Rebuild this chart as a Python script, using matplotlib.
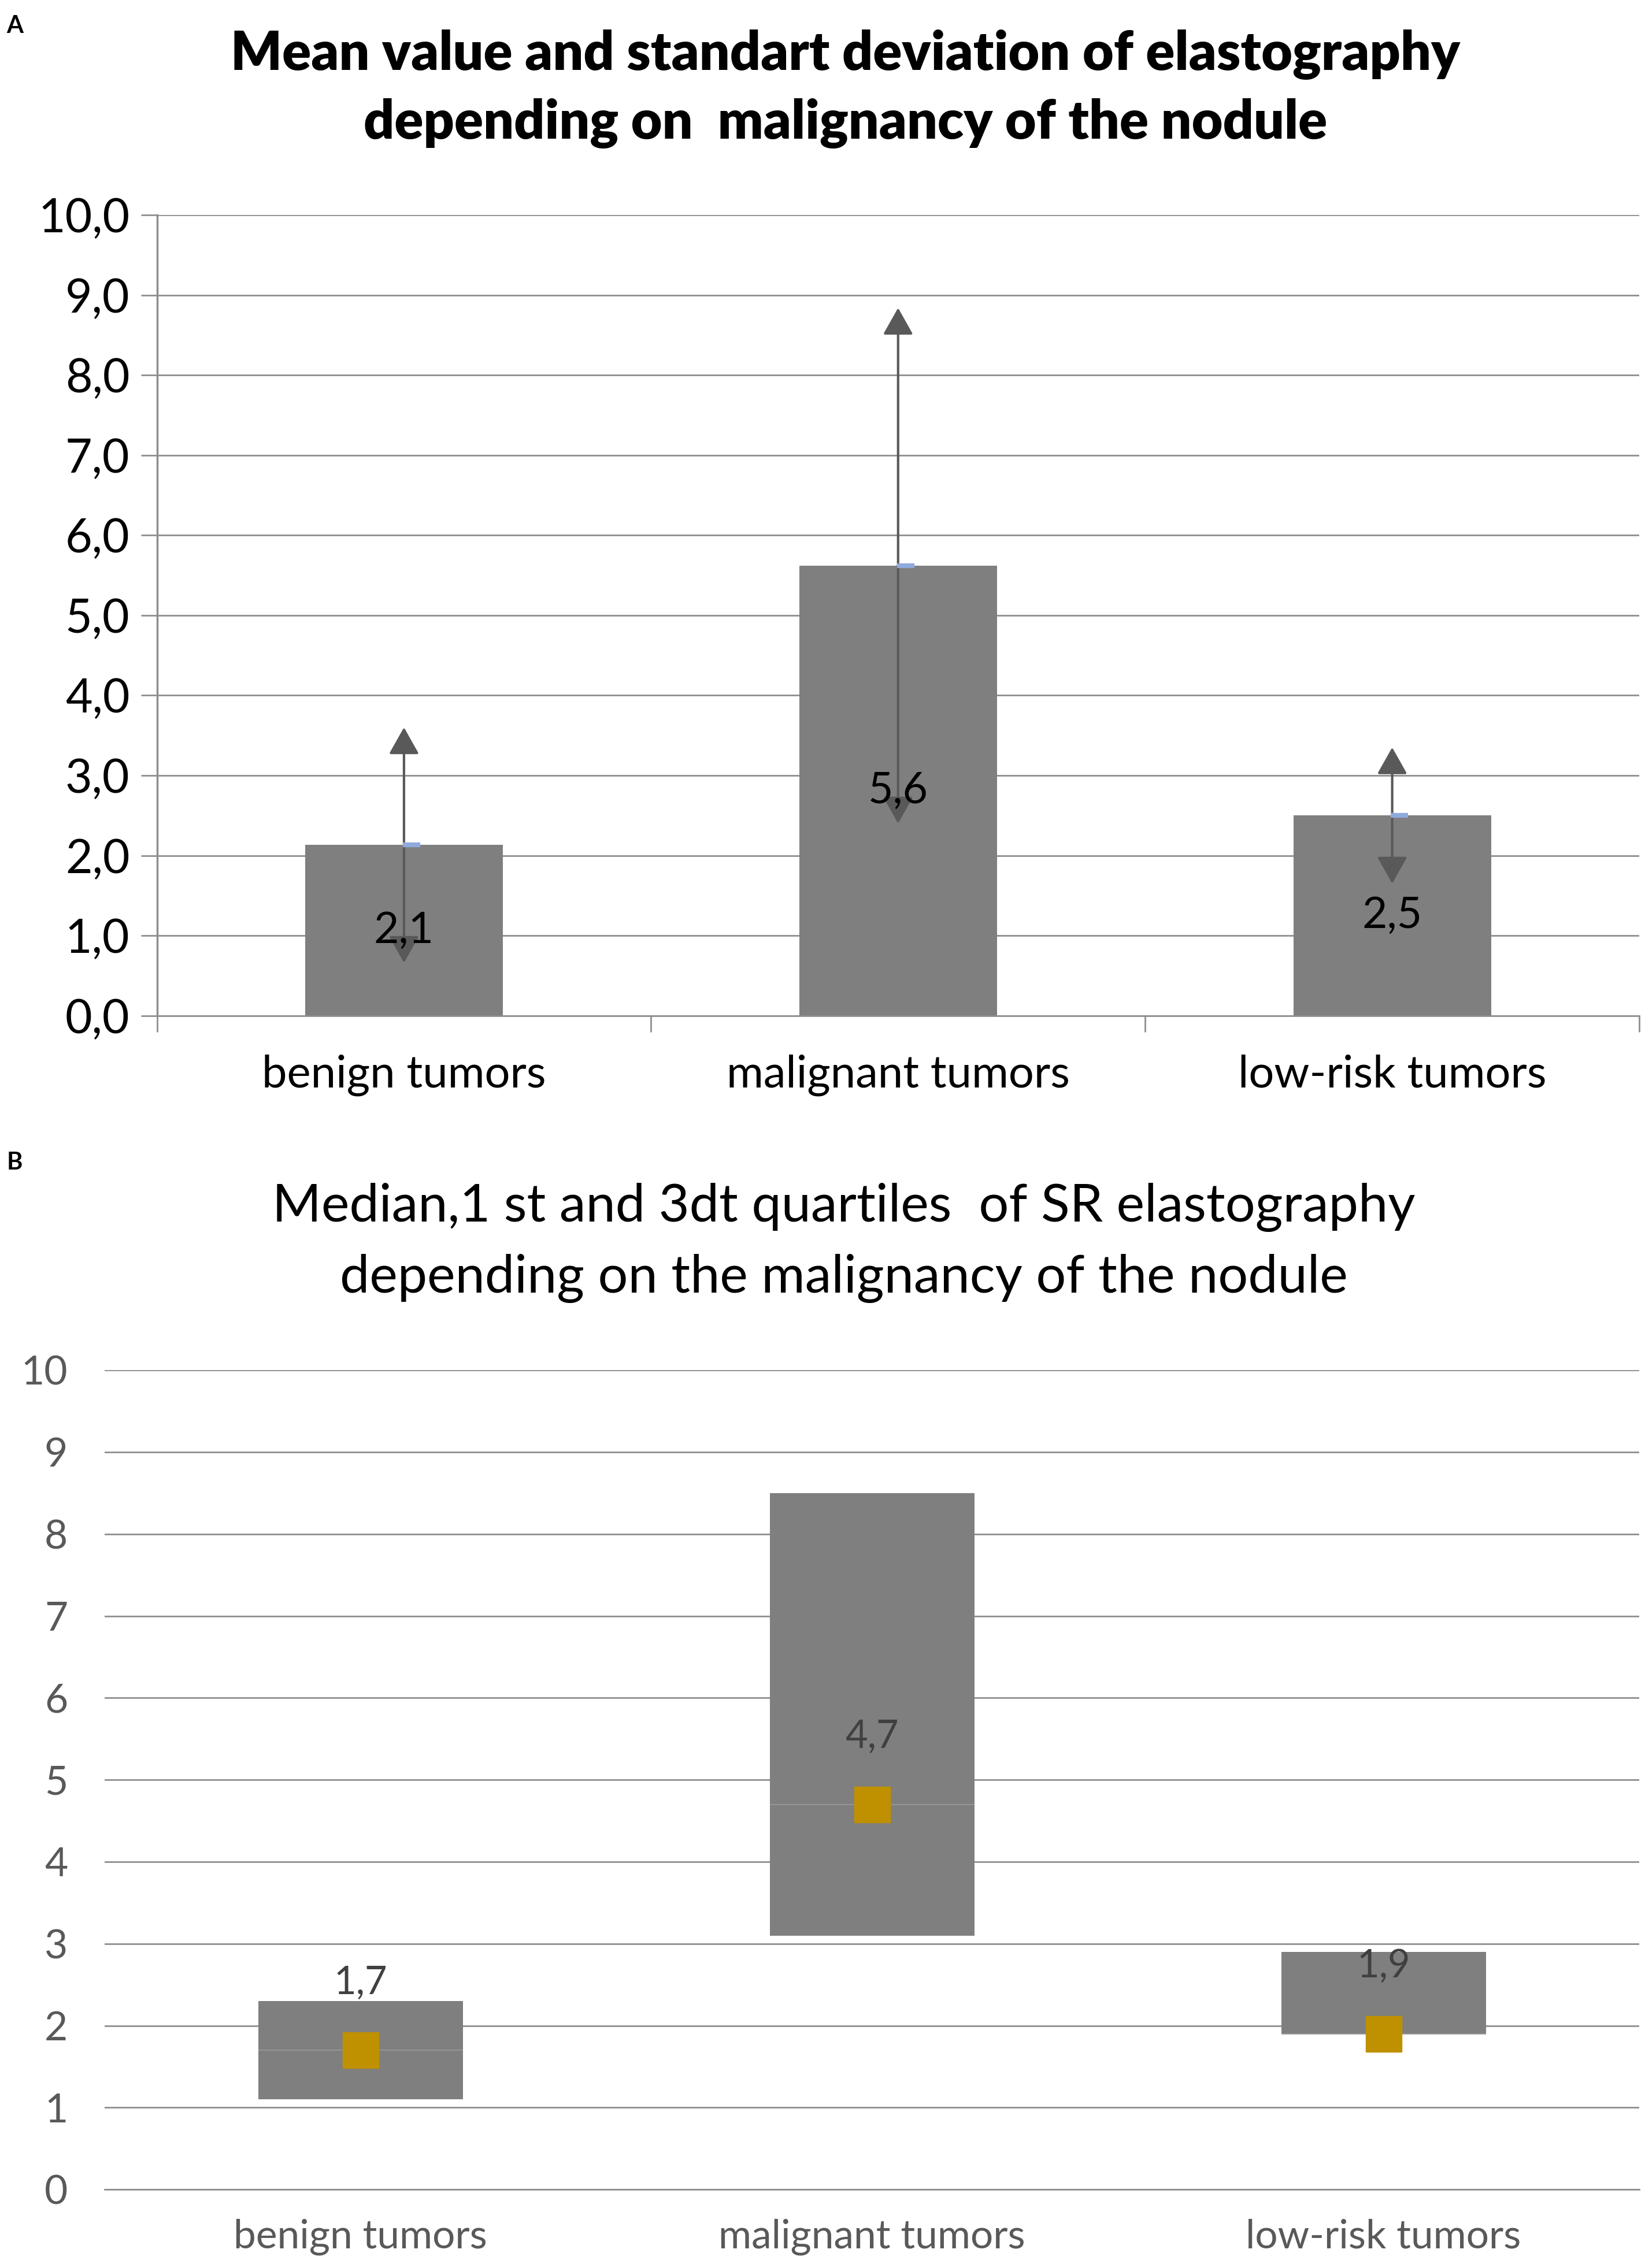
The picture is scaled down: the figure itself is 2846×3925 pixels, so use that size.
import matplotlib
matplotlib.use("Agg")
import matplotlib.pyplot as plt

plt.rcParams['font.family'] = ['Lato', 'DejaVu Sans']

categories = ["benign tumors", "malignant tumors", "low-risk tumors"]

# panel A: mean and standard deviation
means = [2.13, 5.62, 2.50]
sds = [1.47, 3.22, 0.85]
mean_labels = ["2,1", "5,6", "2,5"]
a_ticks = [0, 1, 2, 3, 4, 5, 6, 7, 8, 9, 10]
a_ticklabels = ["0,0", "1,0", "2,0", "3,0", "4,0", "5,0", "6,0", "7,0", "8,0", "9,0", "10,0"]

# panel B: median and quartiles
q1 = [1.1, 3.1, 1.9]
medians = [1.7, 4.7, 1.9]
q3 = [2.3, 8.5, 2.9]
median_labels = ["1,7", "4,7", "1,9"]
b_ticks = [0, 1, 2, 3, 4, 5, 6, 7, 8, 9, 10]

BAR = "#7F7F7F"
GRID = "#8E8E8E"
ARROW = "#595959"

fig = plt.figure(figsize=(28.46, 39.25), dpi=100)

# ---------------- panel A ----------------
ax = fig.add_axes([0.0954, 0.5522, 0.9011, 0.3530])
x = list(range(len(categories)))
ax.set_axisbelow(True)
ax.yaxis.grid(True, color=GRID, linewidth=2.0)
ax.bar(x, means, width=0.4, color=BAR, zorder=2)
for xi, m, s in zip(x, means, sds):
    for end in (m + s, m - s):
        ax.annotate("", xy=(xi, end), xytext=(xi, m),
                    arrowprops=dict(arrowstyle="-|>,head_length=0.8,head_width=0.45",
                                    color=ARROW, lw=3, mutation_scale=36,
                                    shrinkA=0, shrinkB=0), zorder=3)
ax.plot([xi + 0.015 for xi in x], means, linestyle="none", marker="_",
        markersize=22, markeredgewidth=6, color="#8FAADC", zorder=4)
for xi, m, lab in zip(x, means, mean_labels):
    ax.text(xi, m / 2, lab, ha="center", va="center", fontsize=54, color="black", zorder=5)

ax.set_xlim(-0.5, 2.5)
ax.set_ylim(0, 10)
ax.set_yticks(a_ticks)
ax.set_yticklabels(a_ticklabels)
ax.set_xticks([-0.5, 0.5, 1.5, 2.5])
ax.set_xticklabels([])
ax.set_xticks(x, minor=True)
ax.set_xticklabels(categories, minor=True)
ax.tick_params(axis="y", length=20, width=2, color=GRID, labelsize=58, pad=14, labelcolor="black")
ax.tick_params(axis="x", which="major", length=20, width=2, color=GRID)
ax.tick_params(axis="x", which="minor", length=0, labelsize=56, pad=48, labelcolor="black")
for side in ("top", "right"):
    ax.spines[side].set_visible(False)
ax.spines["left"].set_color(GRID)
ax.spines["left"].set_linewidth(2.5)
ax.spines["bottom"].set_color(GRID)
ax.spines["bottom"].set_linewidth(2.0)

fig.text(0.514, 0.976, "Mean value and standart deviation of elastography",
         ha="center", va="center", fontsize=67, fontweight="heavy")
fig.text(0.514, 0.9455, "depending on  malignancy of the nodule",
         ha="center", va="center", fontsize=67, fontweight="heavy")
fig.text(0.004, 0.9885, "A", ha="left", va="center", fontsize=30, fontweight="bold")

# ---------------- panel B ----------------
bx = fig.add_axes([0.0636, 0.0346, 0.9329, 0.3613])
bx.set_axisbelow(True)
bx.yaxis.grid(True, color=GRID, linewidth=2.0)
heights = [b - a for a, b in zip(q1, q3)]
bx.bar(x, heights, bottom=q1, width=0.4, color=BAR, zorder=2)
bx.hlines(medians, [xi - 0.2 for xi in x], [xi + 0.2 for xi in x],
          color="#9A9A9A", linewidth=1.2, zorder=3)
bx.plot(x, medians, linestyle="none", marker="s", markersize=44,
        color="#BF9000", zorder=4)
for xi, md, lab in zip(x, medians, median_labels):
    bx.annotate(lab, xy=(xi, md), xytext=(0, 84), textcoords="offset points",
                ha="center", va="center", fontsize=48, color="#404040", zorder=5)

bx.set_xlim(-0.5, 2.5)
bx.set_ylim(0, 10)
bx.set_yticks(b_ticks)
bx.set_xticks(x)
bx.set_xticklabels(categories)
bx.tick_params(axis="y", length=0, labelsize=50, pad=46, labelcolor="#595959")
bx.tick_params(axis="x", length=0, labelsize=50, pad=36, labelcolor="#595959")
for side in ("top", "right", "left"):
    bx.spines[side].set_visible(False)
bx.spines["bottom"].set_color(GRID)
bx.spines["bottom"].set_linewidth(2.0)

fig.text(0.513, 0.4677, "Median,1 st and 3dt quartiles  of SR elastography",
         ha="center", va="center", fontsize=66, color="black")
fig.text(0.513, 0.4363, "depending on the malignancy of the nodule",
         ha="center", va="center", fontsize=66, color="black")
fig.text(0.004, 0.4875, "B", ha="left", va="center", fontsize=30, fontweight="bold")

fig.savefig("out.png", dpi=100, facecolor="white")
